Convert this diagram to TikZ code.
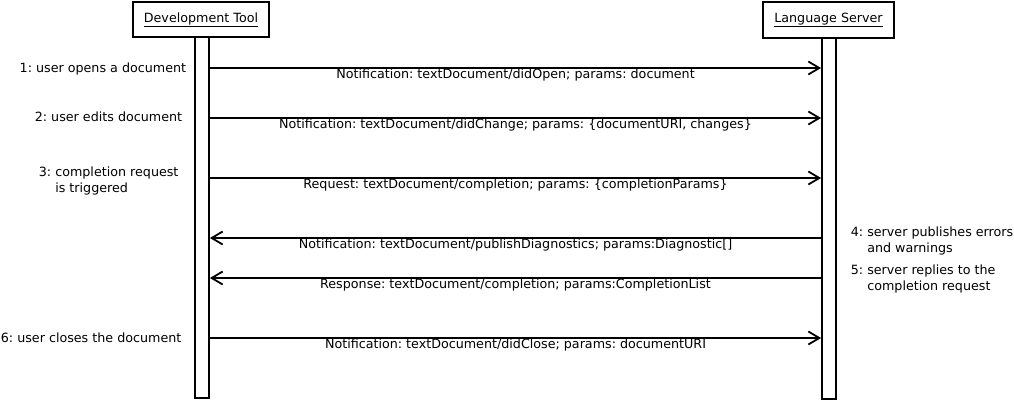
\documentclass[tikz,border=0pt]{standalone}
\usepackage{fontspec}
\setmainfont{DejaVu Sans}
\usetikzlibrary{arrows.meta}
\frenchspacing
\begin{document}
\begin{tikzpicture}[x=1pt,y=-1pt,line width=1.8pt,
  font=\fontsize{12.7}{15.5}\selectfont\frenchspacing,
  actor/.style={draw,fill=white,inner sep=0pt},
  lifebar/.style={draw,fill=white,inner sep=0pt,minimum width=14pt,minimum height=361pt},
  msg/.style={-{Straight Barb[length=11pt,width=13pt,line width=1.8pt]}},
  msglabel/.style={inner sep=0pt,anchor=base,yshift=-10.5pt},
  note/.style={inner sep=0pt,align=left}]
\useasboundingbox (0,0) rectangle (1014,401);
% actors
\node[actor,minimum width=136pt,minimum height=35pt] (dev) at (201,19.5) {\underline{Development Tool}};
\node[actor,minimum width=131pt,minimum height=36pt] (ls) at (828.5,20) {\underline{Language Server}};
% lifelines
\node[lifebar] (devbar) at (202,217.5) {};
\node[lifebar] (lsbar) at (829,218.5) {};
% message levels
\coordinate (y1) at (0,68);
\coordinate (y2) at (0,118);
\coordinate (y3) at (0,178);
\coordinate (y4) at (0,238);
\coordinate (y5) at (0,278);
\coordinate (y6) at (0,338);
% messages
\draw[msg] (devbar.east |- y1) -- node[msglabel]{Notification: textDocument/didOpen; params: document} (lsbar.west |- y1);
\draw[msg] (devbar.east |- y2) -- node[msglabel]{Notification: textDocument/didChange; params: \{documentURI, changes\}} (lsbar.west |- y2);
\draw[msg] (devbar.east |- y3) -- node[msglabel]{Request: textDocument/completion; params: \{completionParams\}} (lsbar.west |- y3);
\draw[msg] (lsbar.west |- y4) -- node[msglabel]{Notification: textDocument/publishDiagnostics; params:Diagnostic[]} (devbar.east |- y4);
\draw[msg] (lsbar.west |- y5) -- node[msglabel]{Response: textDocument/completion; params:CompletionList} (devbar.east |- y5);
\draw[msg] (devbar.east |- y6) -- node[msglabel]{Notification: textDocument/didClose; params: documentURI} (lsbar.west |- y6);
% notes
\node[note,anchor=base east] (n1) at (187,73) {1: user opens a document};
\node[note,anchor=base east] (n2) at (183,122) {2: user edits document};
\node[note,anchor=base west] (n3) at (38,192) {3: completion request\\\phantom{3: }is triggered};
\node[note,anchor=base west] (n4) at (850,252) {4: server publishes errors\\\phantom{4: }and warnings};
\node[note,anchor=base west] (n5) at (850,290) {5: server replies to the\\\phantom{5: }completion request};
\node[note,anchor=base west] (n6) at (0,342) {6: user closes the document};
\end{tikzpicture}
\end{document}
